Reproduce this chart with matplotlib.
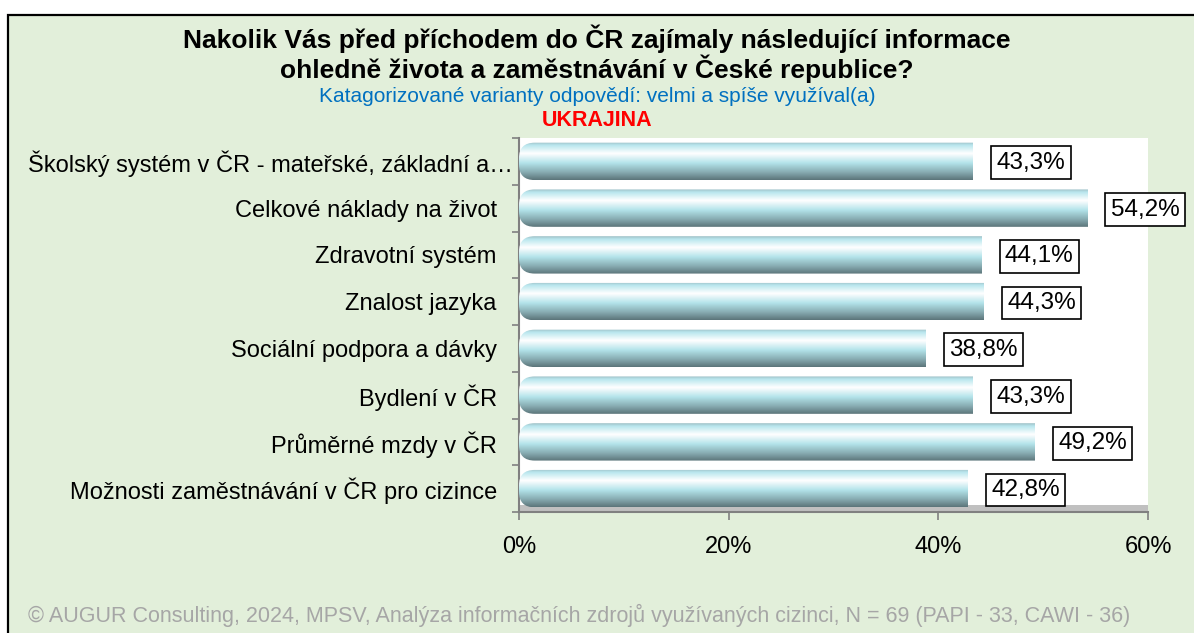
import matplotlib
matplotlib.use('Agg')
import matplotlib.pyplot as plt
import numpy as np
from matplotlib.patches import Rectangle, FancyBboxPatch
from matplotlib.colors import LinearSegmentedColormap
import matplotlib.transforms as mtransforms

plt.rcParams['font.family'] = ['Liberation Sans', 'DejaVu Sans']

# data
categories = [
    'Školský systém v ČR - mateřské, základní a…',
    'Celkové náklady na život',
    'Zdravotní systém',
    'Znalost jazyka',
    'Sociální podpora a dávky',
    'Bydlení v ČR',
    'Průměrné mzdy v ČR',
    'Možnosti zaměstnávání v ČR pro cizince',
]
values = [43.3, 54.2, 44.1, 44.3, 38.8, 43.3, 49.2, 42.8]
xticks = [0, 20, 40, 60]

title = ('Nakolik Vás před příchodem do ČR zajímaly následující informace\n'
         'ohledně života a zaměstnávání v České republice?')
subtitle = 'Katagorizované varianty odpovědí: velmi a spíše využíval(a)'
country = 'UKRAJINA'
footer = ('© AUGUR Consulting, 2024, MPSV, Analýza informačních zdrojů využívaných '
          'cizinci, N = 69 (PAPI - 33, CAWI - 36)')

BG = '#E2EFDA'

fig = plt.figure(figsize=(11.94, 6.33), dpi=100)
fig.patch.set_facecolor('white')
# green panel with black border on left/top
panel = Rectangle((8 / 1194, -0.05), 1.1, (633 - 15) / 633 + 0.05,
                  transform=fig.transFigure, facecolor=BG, edgecolor='black',
                  linewidth=1.6, zorder=-10)
fig.patches.append(panel)

ax = fig.add_axes([519 / 1194, 1 - 512 / 633, (1148 - 519) / 1194, (512 - 138) / 633])
ax.set_facecolor('white')

# cylinder shading
cmap = LinearSegmentedColormap.from_list('cyl', [
    (0.00, '#9fbfc5'),
    (0.08, '#b8e6ee'),
    (0.30, '#ffffff'),
    (0.55, '#b3e3ea'),
    (0.80, '#86aab0'),
    (1.00, '#5b7479'),
])
grad = np.linspace(0, 1, 256).reshape(-1, 1)

ypos = np.arange(len(categories))
bars = ax.barh(ypos, values, height=0.8, color='none', edgecolor='none')
for rect in bars:
    x0, y0 = rect.get_x(), rect.get_y()
    w, h = rect.get_width(), rect.get_height()
    clip = FancyBboxPatch((x0, y0), w + 3, h,
                          boxstyle='round,pad=0,rounding_size=1.5',
                          mutation_aspect=0.33 / 1.5,
                          transform=ax.transData, facecolor='none',
                          edgecolor='none')
    ax.add_patch(clip)
    im = ax.imshow(grad, cmap=cmap, aspect='auto',
                   extent=[x0, x0 + w, y0 + h, y0], zorder=3,
                   interpolation='bilinear')
    im.set_clip_path(clip)

# data labels
for yi, v in zip(ypos, values):
    ax.annotate(f'{v:.1f}%'.replace('.', ','), xy=(v, yi), xytext=(17, -1),
                textcoords='offset points', va='center', ha='left',
                fontsize=17.5, zorder=5,
                bbox=dict(boxstyle='square,pad=0.22', facecolor='white',
                          edgecolor='black', linewidth=1.2))

ax.set_xlim(0, 60)
ax.set_ylim(len(categories) - 0.5, -0.5)

# floor band
floor = Rectangle((0, 0), 1, 7 / 374, transform=ax.transAxes,
                  facecolor='#c0c0c0', edgecolor='none', zorder=2)
ax.add_patch(floor)

ax.set_xticks(xticks)
ax.set_xticklabels([f'{t}%' for t in xticks], fontsize=17)
ax.set_yticks(ypos)
ax.set_yticklabels(categories, fontsize=17)
ax.set_yticks(np.arange(len(categories) + 1) - 0.5, minor=True)
ax.tick_params(axis='y', which='major', length=0, pad=16)
ax.tick_params(axis='y', which='minor', length=5, color='#808080', width=1.2)
ax.tick_params(axis='x', length=6, color='#808080', width=1.2, pad=11)

# the truncated first label runs up to the axis
first = ax.get_yticklabels()[0]
first.set_transform(first.get_transform() +
                    mtransforms.ScaledTranslation(16 / 100, 0, fig.dpi_scale_trans))

for s in ['top', 'right']:
    ax.spines[s].set_visible(False)
ax.spines['left'].set_color('#808080')
ax.spines['left'].set_linewidth(1.5)
ax.spines['bottom'].set_color('#808080')
ax.spines['bottom'].set_linewidth(1.5)

fig.text(0.5, 1 - 54 / 633, title, ha='center', va='center', fontsize=19,
         fontweight='bold', linespacing=1.05)
fig.text(0.5, 1 - 97 / 633, subtitle, ha='center', va='center',
         fontsize=15, color='#0070C0')
fig.text(0.5, 1 - 120 / 633, country, ha='center', va='center',
         fontsize=15.5, fontweight='bold', color='#FF0000')
fig.text(28 / 1194, 1 - 615 / 633, footer, ha='left', va='center',
         fontsize=15.5, color='#A6A6A6')

fig.savefig('out.png', dpi=100)
